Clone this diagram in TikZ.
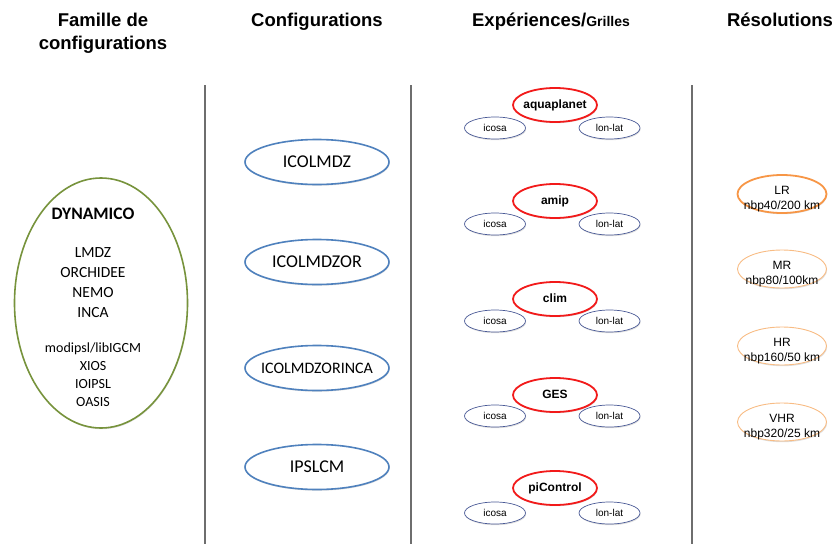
\documentclass[tikz,border=0pt]{standalone}
\usepackage{fontspec}
\setmainfont{Liberation Sans}
\newfontfamily\calib{Carlito}
\usetikzlibrary{shapes.geometric,shadows}
\definecolor{famgreen}{HTML}{77933C}
\definecolor{cfgblue}{HTML}{4F81BD}
\definecolor{expred}{HTML}{F21A1A}
\definecolor{gridnavy}{HTML}{4A5A96}
\definecolor{resorange}{HTML}{F79646}
\definecolor{reslight}{HTML}{F8BC84}
\definecolor{sepgray}{HTML}{6E6E6E}
\begin{document}
\begin{tikzpicture}[x=1pt,y=-1pt,
  heading/.style={font=\fontsize{18.5}{22}\selectfont\bfseries, anchor=base, inner sep=0},
  shd/.style={drop shadow={shadow xshift=0.6pt, shadow yshift=-1.2pt, opacity=0.22, fill=black!60}},
  ell/.style={ellipse, inner sep=0, fill=white, shd},
  famell/.style={ell, draw=famgreen, line width=1.6pt, minimum width=173pt, minimum height=250pt},
  cfgell/.style={ell, draw=cfgblue, line width=1.6pt, minimum width=144pt, minimum height=45pt},
  expell/.style={ell, draw=expred, line width=1.8pt, minimum width=84pt, minimum height=34pt},
  gridell/.style={ell, draw=gridnavy, line width=0.7pt, minimum width=61pt, minimum height=22pt},
  resell/.style={ell, draw=reslight, line width=0.9pt, minimum width=89pt, minimum height=38pt},
  resmain/.style={resell, draw=resorange, line width=1.8pt},
  famtitle/.style={font=\calib\fontsize{17.5}{20}\selectfont\bfseries, anchor=base, inner sep=0},
  famitem/.style={font=\calib\fontsize{15.5}{18}\selectfont, anchor=base, inner sep=0},
  famtool/.style={font=\calib\fontsize{14}{16}\selectfont, anchor=base, inner sep=0},
  cfgtext/.style={font=\calib\fontsize{18}{20}\selectfont, anchor=base, inner sep=0},
  cfgsmall/.style={font=\calib\fontsize{16}{18}\selectfont, anchor=base, inner sep=0},
  exptext/.style={font=\fontsize{12}{14}\selectfont\bfseries, anchor=base, inner sep=0},
  gridtext/.style={font=\fontsize{10}{12}\selectfont, anchor=base, inner sep=0},
  restext/.style={font=\fontsize{12}{14}\selectfont, anchor=base, inner sep=0},
  sepline/.style={draw=sepgray, line width=1.4pt}
]
\useasboundingbox (0,0) rectangle (839,544);

% headings
\node[heading] (h1a) at (103,26) {Famille de};
\node[heading] (h1b) at (103,49) {configurations};
\node[heading] (h2) at (317,26) {Configurations};
\node[heading] (h3) at (551,26) {Expériences/{\fontsize{14}{16}\selectfont Grilles}};
\node[heading] (h4) at (780,26) {Résolutions};

% separators
\coordinate (s1t) at (205,85); \coordinate (s1b) at (205,544);
\coordinate (s2t) at (411,85); \coordinate (s2b) at (411,544);
\coordinate (s3t) at (692,85); \coordinate (s3b) at (692,544);
\draw[sepline] (s1t) -- (s1b);
\draw[sepline] (s2t) -- (s2b);
\draw[sepline] (s3t) -- (s3b);

% family
\node[famell] (fam) at (101,303) {};
\node[famtitle] (f0) at (93,219) {DYNAMICO};
\node[famitem] (f1) at (93,257) {LMDZ};
\node[famitem] (f2) at (93,277) {ORCHIDEE};
\node[famitem] (f3) at (93,297) {NEMO};
\node[famitem] (f4) at (93,317) {INCA};
\node[famtool] (f5) at (93,352) {modipsl/libIGCM};
\node[famtool] (f6) at (93,370) {XIOS};
\node[famtool] (f7) at (93,388) {IOIPSL};
\node[famtool] (f8) at (93,406) {OASIS};

% configurations
\node[cfgell] (c1) at (317,162) {};
\node[cfgtext] (c1t) at (317,167) {ICOLMDZ};
\node[cfgell] (c2) at (317,262) {};
\node[cfgtext] (c2t) at (317,267) {ICOLMDZOR};
\node[cfgell] (c3) at (317,368) {};
\node[cfgsmall] (c3t) at (317,373) {ICOLMDZORINCA};
\node[cfgell] (c4) at (317,467) {};
\node[cfgtext] (c4t) at (317,472.5) {IPSLCM};

% experiences / grids
\foreach \nm/\lab/\yy/\gy in {e1/aquaplanet/105/128, e2/amip/201/224, e3/clim/299/321, e4/GES/395/416, e5/piControl/488/513}{
  \node[gridell] (\nm-ico) at (495,\gy) {};
  \node[gridtext] (\nm-icot) at (495,\gy+3.5) {icosa};
  \node[gridell] (\nm-ll) at (609.5,\gy) {};
  \node[gridtext] (\nm-llt) at (609.5,\gy+3.5) {lon-lat};
  \node[expell] (\nm) at (555,\yy) {};
  \node[exptext] (\nm-t) at (555,\yy+3) {\lab};
}

% resolutions
\node[resmain] (r1) at (782,194) {};
\node[restext] (r1a) at (782,194) {LR};
\node[restext] (r1b) at (782,209) {nbp40/200 km};
\node[resell] (r2) at (782,269) {};
\node[restext] (r2a) at (782,269) {MR};
\node[restext] (r2b) at (782,284) {nbp80/100km};
\node[resell] (r3) at (782,346) {};
\node[restext] (r3a) at (782,346) {HR};
\node[restext] (r3b) at (782,361) {nbp160/50 km};
\node[resell] (r4) at (782,422) {};
\node[restext] (r4a) at (782,422) {VHR};
\node[restext] (r4b) at (782,437) {nbp320/25 km};
\end{tikzpicture}
\end{document}
